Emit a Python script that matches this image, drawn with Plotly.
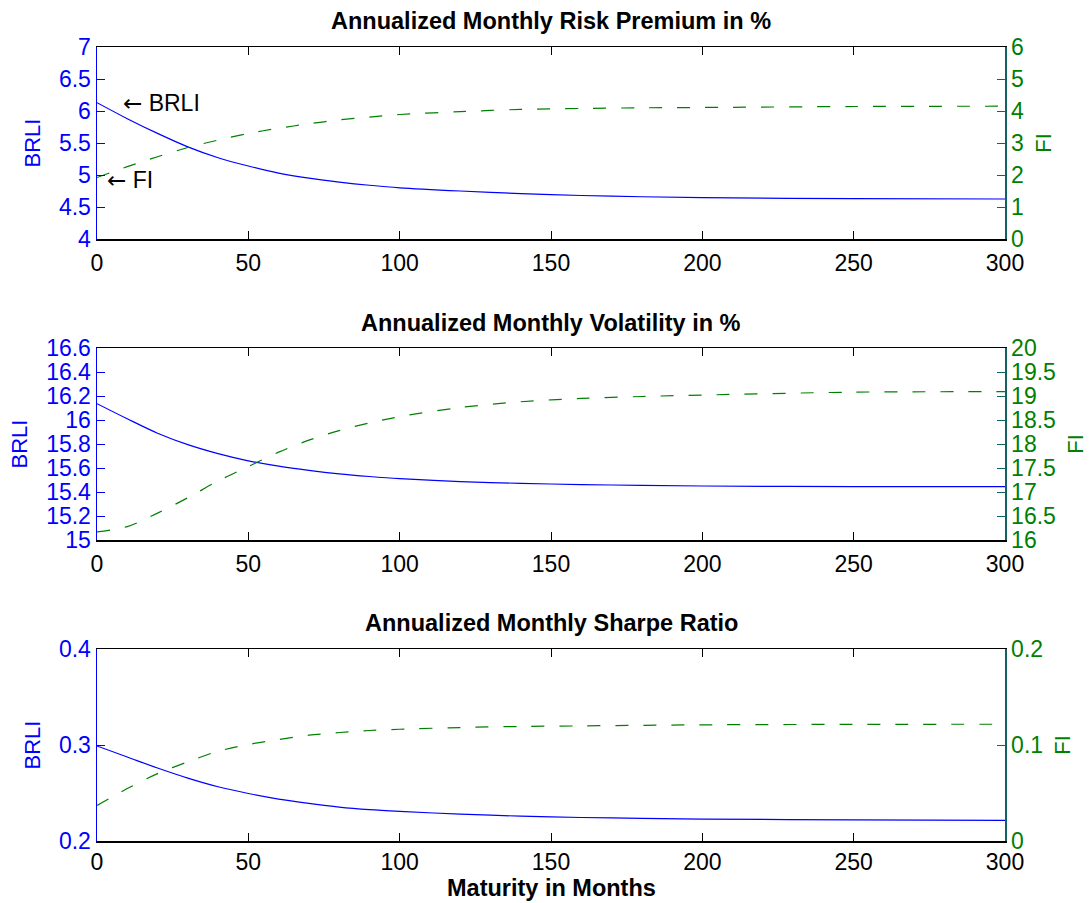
import plotly.graph_objects as go

# ---------------- data ----------------
maturity = [0, 10, 20, 30, 40, 50, 60, 70, 80, 90, 100, 120, 140, 160, 180, 200, 250, 300]

brli_premium = [6.13, 5.88, 5.65, 5.44, 5.27, 5.14, 5.03, 4.95, 4.89, 4.84, 4.80, 4.75, 4.71, 4.68, 4.66, 4.645, 4.63, 4.625]
fi_premium = [1.92, 2.26, 2.57, 2.86, 3.09, 3.30, 3.46, 3.60, 3.72, 3.81, 3.89, 3.98, 4.05, 4.08, 4.10, 4.11, 4.14, 4.15]

brli_vol = [16.136, 16.01, 15.89, 15.795, 15.72, 15.66, 15.615, 15.58, 15.551, 15.529, 15.511, 15.487, 15.472, 15.462, 15.455, 15.45, 15.445, 15.444]
fi_vol = [16.17, 16.28, 16.56, 16.88, 17.23, 17.53, 17.83, 18.08, 18.28, 18.44, 18.57, 18.76, 18.88, 18.95, 18.99, 19.02, 19.08, 19.09]

brli_sharpe = [0.299, 0.2875, 0.276, 0.2655, 0.2565, 0.2495, 0.2437, 0.2392, 0.2353, 0.2326, 0.2308, 0.228, 0.2259, 0.2245, 0.2236, 0.2228, 0.222, 0.2214]
fi_sharpe = [0.0371, 0.0546, 0.0702, 0.0825, 0.0935, 0.1005, 0.1057, 0.1102, 0.113, 0.1151, 0.1164, 0.1182, 0.1193, 0.1199, 0.1205, 0.121, 0.1215, 0.1216]

titles = ["Annualized Monthly Risk Premium in %",
          "Annualized Monthly Volatility in %",
          "Annualized Monthly Sharpe Ratio"]
x_ticks = [0, 50, 100, 150, 200, 250, 300]
left_ticks = [[4, 4.5, 5, 5.5, 6, 6.5, 7],
              [15, 15.2, 15.4, 15.6, 15.8, 16, 16.2, 16.4, 16.6],
              [0.2, 0.3, 0.4]]
right_ticks = [[0, 1, 2, 3, 4, 5, 6],
               [16, 16.5, 17, 17.5, 18, 18.5, 19, 19.5, 20],
               [0, 0.1, 0.2]]
left_ranges = [[4, 7], [15, 16.6], [0.2, 0.4]]
right_ranges = [[0, 6], [16, 20], [0, 0.2]]
brli_series = [brli_premium, brli_vol, brli_sharpe]
fi_series = [fi_premium, fi_vol, fi_sharpe]

# ---------------- layout geometry ----------------
# The page body margin is removed (post_script below), so the figure fills the window.
W, H = 1089, 903


def fx(px):
    return px / W


def fy(py):
    return 1 - py / H


X0, X1 = fx(97), fx(1005)
panels_px = [(47, 239), (348, 540), (649, 841)]   # top, bottom in window pixels
title_px = [21, 323, 623]
x_label_standoff = [3, 3, 0]

BLUE = "#0000FF"
GREEN = "#008000"
RAXIS = "#126262"
FONT = "Liberation Sans, Arial, Helvetica, sans-serif"
TICK_SIZE = 23
LABEL_SIZE = 22
TITLE_SIZE = 23.5

fig = go.Figure()
layout = dict(
    width=W, height=H,
    margin=dict(l=0, r=0, t=0, b=0, autoexpand=False),
    paper_bgcolor="white", plot_bgcolor="white",
    showlegend=False,
    font=dict(family=FONT, size=TICK_SIZE, color="black"),
    annotations=[],
)

for i in range(3):
    top, bot = panels_px[i]
    dom = [fy(bot), fy(top)]
    xa = "xaxis" if i == 0 else f"xaxis{i+1}"
    xr = "x" if i == 0 else f"x{i+1}"
    yl_n = 2 * i + 1
    yr_n = 2 * i + 2
    yl = "yaxis" if yl_n == 1 else f"yaxis{yl_n}"
    yr = f"yaxis{yr_n}"
    ylr = "y" if yl_n == 1 else f"y{yl_n}"
    yrr = f"y{yr_n}"

    fig.add_trace(go.Scatter(x=maturity, y=brli_series[i], mode="lines",
                             line=dict(color=BLUE, width=1.2, shape="spline", smoothing=0.9),
                             xaxis=xr, yaxis=ylr, hoverinfo="skip"))
    fig.add_trace(go.Scatter(x=maturity, y=fi_series[i], mode="lines",
                             line=dict(color=GREEN, width=1.2, dash="13px,15px",
                                       shape="spline", smoothing=0.9),
                             xaxis=xr, yaxis=yrr, hoverinfo="skip"))

    layout[xa] = dict(domain=[X0, X1], anchor=ylr, range=[0, 300], automargin=False,
                      tickvals=x_ticks, ticks="inside", ticklen=8, tickcolor="black",
                      showline=True, linecolor="black", linewidth=1.5, mirror="ticks",
                      showgrid=False, zeroline=False, fixedrange=True,
                      ticklabelstandoff=x_label_standoff[i],
                      tickfont=dict(size=TICK_SIZE, color="black", family=FONT))
    layout[yl] = dict(domain=dom, anchor=xr, range=left_ranges[i], automargin=False,
                      tickvals=left_ticks[i], ticks="inside", ticklen=8, tickcolor=BLUE,
                      showline=True, linecolor=BLUE, linewidth=1.5,
                      showgrid=False, zeroline=False, fixedrange=True,
                      tickfont=dict(size=TICK_SIZE, color=BLUE, family=FONT),
                      title=dict(text="BRLI", font=dict(size=LABEL_SIZE, color=BLUE, family=FONT),
                                 standoff=12))
    layout[yr] = dict(domain=dom, anchor=xr, overlaying=ylr, side="right",
                      range=right_ranges[i], automargin=False,
                      tickvals=right_ticks[i], ticks="inside", ticklen=8, tickcolor=RAXIS,
                      showline=True, linecolor=RAXIS, linewidth=1.5,
                      showgrid=False, zeroline=False, fixedrange=True,
                      tickfont=dict(size=TICK_SIZE, color=GREEN, family=FONT),
                      title=dict(text="FI", font=dict(size=LABEL_SIZE, color=GREEN, family=FONT),
                                 standoff=12))

    layout["annotations"].append(dict(
        text="<b>" + titles[i] + "</b>", xref="paper", yref="paper",
        x=(X0 + X1) / 2, y=fy(title_px[i]), xanchor="center", yanchor="middle",
        showarrow=False, font=dict(size=TITLE_SIZE, color="black", family=FONT)))

# x-axis label
layout["annotations"].append(dict(
    text="<b>Maturity in Months</b>", xref="paper", yref="paper",
    x=(X0 + X1) / 2, y=fy(888), xanchor="center", yanchor="middle",
    showarrow=False, font=dict(size=TITLE_SIZE, color="black", family=FONT)))

# in-plot labels of the first panel
ARROW = "<span style='font-family:DejaVu Sans'>\u2190</span>"
layout["annotations"].append(dict(
    text=ARROW + " BRLI", xref="x", yref="y", x=8, y=6.12,
    xanchor="left", yanchor="middle", showarrow=False,
    font=dict(size=TICK_SIZE, color="black", family=FONT)))
layout["annotations"].append(dict(
    text=ARROW + " FI", xref="x", yref="y", x=2.5, y=4.92,
    xanchor="left", yanchor="middle", showarrow=False,
    font=dict(size=TICK_SIZE, color="black", family=FONT)))

fig.update_layout(**layout)
fig.write_html(
    "out.html",
    config={"displayModeBar": False, "staticPlot": True},
    post_script="document.body.style.margin='0';document.body.style.overflow='hidden';",
)
